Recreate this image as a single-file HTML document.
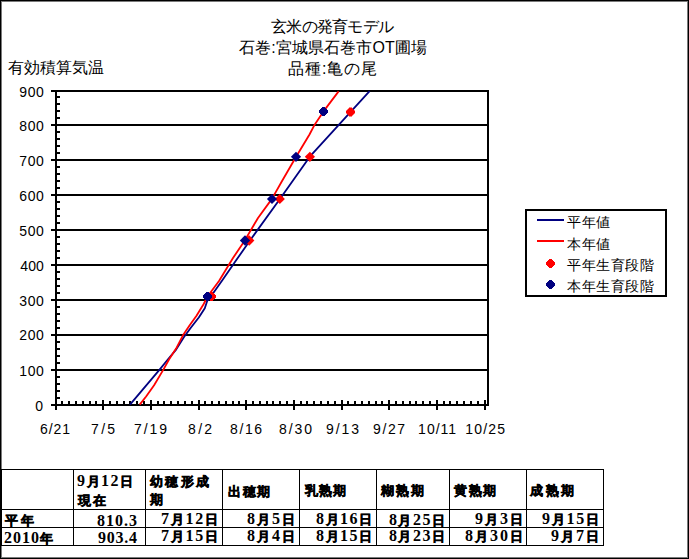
<!DOCTYPE html>
<html><head><meta charset="utf-8"><style>
html,body{margin:0;padding:0;background:#fff;}
body{width:689px;height:559px;position:relative;overflow:hidden;font-family:"Liberation Sans",sans-serif;}
svg{position:absolute;left:0;top:0;}
.t{font-family:"Liberation Sans",sans-serif;font-size:16px;fill:#000;}
.lg{font-family:"Liberation Sans",sans-serif;font-size:14px;fill:#000;}
.ax{font-family:"Liberation Sans",sans-serif;font-size:14px;fill:#000;}
.tb{font-family:"Liberation Serif",serif;font-weight:bold;fill:#000;}
.tb .dg{font-size:16px;}
.tb .cj{font-size:13px;stroke:#000;stroke-width:0.5px;}
</style></head><body>
<svg width="689" height="559" viewBox="0 0 689 559">
<g id="frame" shape-rendering="crispEdges">
<rect x="1" y="1" width="687" height="1" fill="#7a7a7a"/>
<rect x="1" y="557" width="687" height="1" fill="#7a7a7a"/>
<rect x="1" y="1" width="1" height="557" fill="#7a7a7a"/>
<rect x="687" y="1" width="1" height="557" fill="#7a7a7a"/>
<rect x="0" y="0" width="689" height="1"/>
<rect x="0" y="558" width="689" height="1"/>
<rect x="0" y="0" width="1" height="559"/>
<rect x="688" y="0" width="1" height="559"/>
<rect x="51" y="90" width="437" height="2"/><rect x="51" y="124" width="437" height="2"/><rect x="51" y="159" width="437" height="2"/><rect x="51" y="194" width="437" height="2"/><rect x="51" y="229" width="437" height="2"/><rect x="51" y="264" width="437" height="2"/><rect x="51" y="299" width="437" height="2"/><rect x="51" y="334" width="437" height="2"/><rect x="51" y="369" width="437" height="2"/><rect x="51" y="404" width="437" height="2"/><rect x="55" y="90" width="2" height="320"/><rect x="487" y="90" width="2" height="316"/><rect x="57" y="96" width="3" height="2"/><rect x="57" y="103" width="3" height="2"/><rect x="57" y="110" width="3" height="2"/><rect x="57" y="117" width="3" height="2"/><rect x="57" y="131" width="3" height="2"/><rect x="57" y="138" width="3" height="2"/><rect x="57" y="145" width="3" height="2"/><rect x="57" y="152" width="3" height="2"/><rect x="57" y="166" width="3" height="2"/><rect x="57" y="173" width="3" height="2"/><rect x="57" y="180" width="3" height="2"/><rect x="57" y="187" width="3" height="2"/><rect x="57" y="201" width="3" height="2"/><rect x="57" y="208" width="3" height="2"/><rect x="57" y="215" width="3" height="2"/><rect x="57" y="222" width="3" height="2"/><rect x="57" y="236" width="3" height="2"/><rect x="57" y="243" width="3" height="2"/><rect x="57" y="250" width="3" height="2"/><rect x="57" y="257" width="3" height="2"/><rect x="57" y="271" width="3" height="2"/><rect x="57" y="278" width="3" height="2"/><rect x="57" y="285" width="3" height="2"/><rect x="57" y="292" width="3" height="2"/><rect x="57" y="306" width="3" height="2"/><rect x="57" y="313" width="3" height="2"/><rect x="57" y="320" width="3" height="2"/><rect x="57" y="327" width="3" height="2"/><rect x="57" y="341" width="3" height="2"/><rect x="57" y="348" width="3" height="2"/><rect x="57" y="355" width="3" height="2"/><rect x="57" y="362" width="3" height="2"/><rect x="57" y="376" width="3" height="2"/><rect x="57" y="383" width="3" height="2"/><rect x="57" y="390" width="3" height="2"/><rect x="57" y="397" width="3" height="2"/><rect x="61" y="401" width="2" height="3"/><rect x="68" y="401" width="2" height="3"/><rect x="75" y="401" width="2" height="3"/><rect x="82" y="401" width="2" height="3"/><rect x="89" y="401" width="2" height="3"/><rect x="95" y="401" width="2" height="3"/><rect x="102" y="400" width="2" height="10"/><rect x="109" y="401" width="2" height="3"/><rect x="116" y="401" width="2" height="3"/><rect x="123" y="401" width="2" height="3"/><rect x="129" y="401" width="2" height="3"/><rect x="136" y="401" width="2" height="3"/><rect x="143" y="401" width="2" height="3"/><rect x="150" y="400" width="2" height="10"/><rect x="157" y="401" width="2" height="3"/><rect x="163" y="401" width="2" height="3"/><rect x="170" y="401" width="2" height="3"/><rect x="177" y="401" width="2" height="3"/><rect x="184" y="401" width="2" height="3"/><rect x="191" y="401" width="2" height="3"/><rect x="198" y="400" width="2" height="10"/><rect x="204" y="401" width="2" height="3"/><rect x="211" y="401" width="2" height="3"/><rect x="218" y="401" width="2" height="3"/><rect x="225" y="401" width="2" height="3"/><rect x="232" y="401" width="2" height="3"/><rect x="238" y="401" width="2" height="3"/><rect x="245" y="400" width="2" height="10"/><rect x="252" y="401" width="2" height="3"/><rect x="259" y="401" width="2" height="3"/><rect x="266" y="401" width="2" height="3"/><rect x="272" y="401" width="2" height="3"/><rect x="279" y="401" width="2" height="3"/><rect x="286" y="401" width="2" height="3"/><rect x="293" y="400" width="2" height="10"/><rect x="300" y="401" width="2" height="3"/><rect x="306" y="401" width="2" height="3"/><rect x="313" y="401" width="2" height="3"/><rect x="320" y="401" width="2" height="3"/><rect x="327" y="401" width="2" height="3"/><rect x="334" y="401" width="2" height="3"/><rect x="341" y="400" width="2" height="10"/><rect x="347" y="401" width="2" height="3"/><rect x="354" y="401" width="2" height="3"/><rect x="361" y="401" width="2" height="3"/><rect x="368" y="401" width="2" height="3"/><rect x="375" y="401" width="2" height="3"/><rect x="381" y="401" width="2" height="3"/><rect x="388" y="400" width="2" height="10"/><rect x="395" y="401" width="2" height="3"/><rect x="402" y="401" width="2" height="3"/><rect x="409" y="401" width="2" height="3"/><rect x="415" y="401" width="2" height="3"/><rect x="422" y="401" width="2" height="3"/><rect x="429" y="401" width="2" height="3"/><rect x="436" y="400" width="2" height="10"/><rect x="443" y="401" width="2" height="3"/><rect x="449" y="401" width="2" height="3"/><rect x="456" y="401" width="2" height="3"/><rect x="463" y="401" width="2" height="3"/><rect x="470" y="401" width="2" height="3"/><rect x="477" y="401" width="2" height="3"/><rect x="484" y="400" width="2" height="10"/><rect x="525" y="209" width="142" height="2"/><rect x="525" y="295" width="142" height="2"/><rect x="525" y="209" width="2" height="88"/><rect x="665" y="209" width="2" height="88"/><rect x="537" y="219" width="27" height="2" fill="#000080"/><rect x="537" y="240" width="27" height="2" fill="#ff0000"/><rect x="73" y="469" width="1" height="77"/><rect x="145" y="469" width="1" height="77"/><rect x="222" y="469" width="1" height="77"/><rect x="299" y="469" width="1" height="77"/><rect x="376" y="469" width="1" height="77"/><rect x="449" y="469" width="1" height="77"/><rect x="526" y="469" width="1" height="77"/><rect x="603" y="469" width="1" height="77"/><rect x="0" y="469" width="604" height="1"/><rect x="0" y="509" width="604" height="1"/><rect x="0" y="527" width="604" height="1"/><rect x="0" y="545" width="604" height="1"/><rect x="0" y="469" width="2" height="77"/>
</g>
<g id="shapes"><polyline points="130.0,404.6 159.6,369.6 167.6,359.8 176.1,349.6 184.0,337.0 191.0,327.5 198.8,317.5 204.8,308.2 207.2,301.0 211.0,296.3 222.5,280.0 236.5,259.8 249.6,241.0 279.9,199.0 309.8,156.7 369.6,91.2" fill="none" stroke="#000080" stroke-width="1.8" stroke-linejoin="round"/><polyline points="139.7,404.6 146.1,396.5 154.1,385.2 163.4,369.6 169.0,359.5 176.1,348.6 182.8,335.6 189.5,325.6 196.5,315.8 203.7,304.0 207.5,296.5 219.0,281.0 226.0,269.5 233.0,258.0 244.8,240.4 258.0,218.0 271.9,198.9 282.2,180.8 296.1,156.7 309.5,134.5 314.8,124.4 323.5,111.4 338.6,91.4" fill="none" stroke="#ff0000" stroke-width="1.8" stroke-linejoin="round"/><polygon points="210.00,292.00 213.00,292.00 213.00,293.00 214.00,293.00 214.00,294.00 215.00,294.00 215.00,295.00 216.00,295.00 216.00,298.00 215.00,298.00 215.00,299.00 214.00,299.00 214.00,300.00 213.00,300.00 213.00,301.00 210.00,301.00 210.00,300.00 209.00,300.00 209.00,299.00 208.00,299.00 208.00,298.00 207.00,298.00 207.00,295.00 208.00,295.00 208.00,294.00 209.00,294.00 209.00,293.00 210.00,293.00" fill="#ff0000"/><polygon points="206.00,292.00 209.00,292.00 209.00,293.00 210.00,293.00 210.00,294.00 211.00,294.00 211.00,295.00 212.00,295.00 212.00,298.00 211.00,298.00 211.00,299.00 210.00,299.00 210.00,300.00 209.00,300.00 209.00,301.00 206.00,301.00 206.00,300.00 205.00,300.00 205.00,299.00 204.00,299.00 204.00,298.00 203.00,298.00 203.00,295.00 204.00,295.00 204.00,294.00 205.00,294.00 205.00,293.00 206.00,293.00" fill="#000080"/><polygon points="244.00,240.50 249.20,235.30 254.40,240.50 249.20,245.70" fill="#ff0000"/><polygon points="239.80,240.50 245.00,235.30 250.20,240.50 245.00,245.70" fill="#000080"/><polygon points="274.70,199.00 279.80,193.90 284.90,199.00 279.80,204.10" fill="#ff0000"/><polygon points="266.90,199.00 272.00,193.90 277.10,199.00 272.00,204.10" fill="#000080"/><polygon points="304.80,156.80 309.90,151.70 315.00,156.80 309.90,161.90" fill="#ff0000"/><polygon points="290.90,156.80 296.00,151.70 301.10,156.80 296.00,161.90" fill="#000080"/><polygon points="349.00,107.50 352.00,107.50 352.00,108.50 353.00,108.50 353.00,109.50 354.00,109.50 354.00,110.50 355.00,110.50 355.00,113.50 354.00,113.50 354.00,114.50 353.00,114.50 353.00,115.50 352.00,115.50 352.00,116.50 349.00,116.50 349.00,115.50 348.00,115.50 348.00,114.50 347.00,114.50 347.00,113.50 346.00,113.50 346.00,110.50 347.00,110.50 347.00,109.50 348.00,109.50 348.00,108.50 349.00,108.50" fill="#ff0000"/><polygon points="322.00,107.00 325.00,107.00 325.00,108.00 326.00,108.00 326.00,109.00 327.00,109.00 327.00,110.00 328.00,110.00 328.00,113.00 327.00,113.00 327.00,114.00 326.00,114.00 326.00,115.00 325.00,115.00 325.00,116.00 322.00,116.00 322.00,115.00 321.00,115.00 321.00,114.00 320.00,114.00 320.00,113.00 319.00,113.00 319.00,110.00 320.00,110.00 320.00,109.00 321.00,109.00 321.00,108.00 322.00,108.00" fill="#000080"/><polygon points="549.00,259.00 552.00,259.00 552.00,260.00 553.00,260.00 553.00,261.00 554.00,261.00 554.00,262.00 555.00,262.00 555.00,265.00 554.00,265.00 554.00,266.00 553.00,266.00 553.00,267.00 552.00,267.00 552.00,268.00 549.00,268.00 549.00,267.00 548.00,267.00 548.00,266.00 547.00,266.00 547.00,265.00 546.00,265.00 546.00,262.00 547.00,262.00 547.00,261.00 548.00,261.00 548.00,260.00 549.00,260.00" fill="#ff0000"/><polygon points="549.00,280.00 552.00,280.00 552.00,281.00 553.00,281.00 553.00,282.00 554.00,282.00 554.00,283.00 555.00,283.00 555.00,286.00 554.00,286.00 554.00,287.00 553.00,287.00 553.00,288.00 552.00,288.00 552.00,289.00 549.00,289.00 549.00,288.00 548.00,288.00 548.00,287.00 547.00,287.00 547.00,286.00 546.00,286.00 546.00,283.00 547.00,283.00 547.00,282.00 548.00,282.00 548.00,281.00 549.00,281.00" fill="#000080"/></g>
<g id="texts"><text id="t1" class="t" x="271.02" y="31.86" textLength="123.07" lengthAdjust="spacing">玄米の発育モデル</text><text id="t2" class="t" x="239.01" y="53.20" textLength="187.97" lengthAdjust="spacing">石巻:宮城県石巻市OT圃場</text><text id="t3" class="t" x="288.14" y="73.92" textLength="88.89" lengthAdjust="spacing">品種:亀の尾</text><text id="t4" class="t" x="7.98" y="72.82" textLength="95.99" lengthAdjust="spacing">有効積算気温</text><text id="lg1" class="lg" x="566.98" y="227.02" textLength="43.12" lengthAdjust="spacing">平年値</text><text id="lg2" class="lg" x="566.98" y="248.86" textLength="43.12" lengthAdjust="spacing">本年値</text><text id="lg3" class="lg" x="566.98" y="270.40" textLength="87.14" lengthAdjust="spacing">平年生育段階</text><text id="lg4" class="lg" x="566.98" y="290.69" textLength="87.14" lengthAdjust="spacing">本年生育段階</text><text id="x1" class="ax" x="40.10" y="434.45" textLength="30.00" lengthAdjust="spacing">6/21</text><text id="x2" class="ax" x="91.07" y="434.45" textLength="24.03" lengthAdjust="spacing">7/5</text><text id="x3" class="ax" x="134.10" y="434.45" textLength="32.99" lengthAdjust="spacing">7/19</text><text id="x4" class="ax" x="188.06" y="434.45" textLength="24.03" lengthAdjust="spacing">8/2</text><text id="x5" class="ax" x="230.03" y="434.45" textLength="32.07" lengthAdjust="spacing">8/16</text><text id="x6" class="ax" x="279.05" y="434.45" textLength="32.99" lengthAdjust="spacing">8/30</text><text id="x7" class="ax" x="326.07" y="434.45" textLength="32.96" lengthAdjust="spacing">9/13</text><text id="x8" class="ax" x="373.09" y="434.45" textLength="31.98" lengthAdjust="spacing">9/27</text><text id="x9" class="ax" x="418.12" y="434.45" textLength="37.93" lengthAdjust="spacing">10/11</text><text id="x10" class="ax" x="465.14" y="434.45" textLength="39.91" lengthAdjust="spacing">10/25</text><text id="h1" class="tb" x="77.03" y="486.21" textLength="55.88" lengthAdjust="spacing"><tspan class="dg">9</tspan><tspan class="cj">月</tspan><tspan class="dg">12</tspan><tspan class="cj">日</tspan></text><text id="h1b" class="tb" x="77.93" y="504.61" textLength="28.22" lengthAdjust="spacing"><tspan class="cj">現在</tspan></text><text id="h2" class="tb" x="149.98" y="486.04" textLength="59.14" lengthAdjust="spacing"><tspan class="cj">幼穂形成</tspan></text><text id="h2b" class="tb" x="149.98" y="503.57" textLength="38.34" lengthAdjust="spacing"><tspan class="cj">期</tspan></text><text id="h3" class="tb" x="227.98" y="495.59" textLength="42.12" lengthAdjust="spacing"><tspan class="cj">出穂期</tspan></text><text id="h4" class="tb" x="304.88" y="494.99" textLength="41.28" lengthAdjust="spacing"><tspan class="cj">乳熟期</tspan></text><text id="h5" class="tb" x="380.88" y="494.99" textLength="43.21" lengthAdjust="spacing"><tspan class="cj">糊熟期</tspan></text><text id="h6" class="tb" x="453.98" y="494.99" textLength="42.18" lengthAdjust="spacing"><tspan class="cj">黄熟期</tspan></text><text id="h7" class="tb" x="529.98" y="494.99" textLength="44.11" lengthAdjust="spacing"><tspan class="cj">成熟期</tspan></text><text id="r1" class="tb" x="4.98" y="524.61" textLength="29.16" lengthAdjust="spacing"><tspan class="cj">平年</tspan></text><text id="r2" class="tb" x="4.08" y="542.67" textLength="49.05" lengthAdjust="spacing"><tspan class="dg">2010</tspan><tspan class="cj">年</tspan></text><text id="a1" class="tb" x="97.10" y="525.92" textLength="40.01" lengthAdjust="spacing"><tspan class="dg">810.3</tspan></text><text id="a2" class="tb" x="98.00" y="543.16" textLength="39.12" lengthAdjust="spacing"><tspan class="dg">903.4</tspan></text><text id="b1" class="tb" x="161.07" y="524.43" textLength="56.86" lengthAdjust="spacing"><tspan class="dg">7</tspan><tspan class="cj">月</tspan><tspan class="dg">12</tspan><tspan class="cj">日</tspan></text><text id="b2" class="tb" x="161.07" y="541.42" textLength="56.86" lengthAdjust="spacing"><tspan class="dg">7</tspan><tspan class="cj">月</tspan><tspan class="dg">15</tspan><tspan class="cj">日</tspan></text><text id="c1" class="tb" x="247.09" y="524.10" textLength="47.83" lengthAdjust="spacing"><tspan class="dg">8</tspan><tspan class="cj">月</tspan><tspan class="dg">5</tspan><tspan class="cj">日</tspan></text><text id="c2" class="tb" x="247.09" y="541.45" textLength="47.83" lengthAdjust="spacing"><tspan class="dg">8</tspan><tspan class="cj">月</tspan><tspan class="dg">4</tspan><tspan class="cj">日</tspan></text><text id="d1" class="tb" x="316.04" y="524.10" textLength="55.84" lengthAdjust="spacing"><tspan class="dg">8</tspan><tspan class="cj">月</tspan><tspan class="dg">16</tspan><tspan class="cj">日</tspan></text><text id="d2" class="tb" x="316.04" y="541.45" textLength="55.84" lengthAdjust="spacing"><tspan class="dg">8</tspan><tspan class="cj">月</tspan><tspan class="dg">15</tspan><tspan class="cj">日</tspan></text><text id="e1" class="tb" x="389.02" y="524.52" textLength="55.90" lengthAdjust="spacing"><tspan class="dg">8</tspan><tspan class="cj">月</tspan><tspan class="dg">25</tspan><tspan class="cj">日</tspan></text><text id="e2" class="tb" x="389.02" y="541.45" textLength="55.90" lengthAdjust="spacing"><tspan class="dg">8</tspan><tspan class="cj">月</tspan><tspan class="dg">23</tspan><tspan class="cj">日</tspan></text><text id="f1" class="tb" x="475.02" y="524.10" textLength="47.83" lengthAdjust="spacing"><tspan class="dg">9</tspan><tspan class="cj">月</tspan><tspan class="dg">3</tspan><tspan class="cj">日</tspan></text><text id="f2" class="tb" x="465.09" y="541.45" textLength="57.76" lengthAdjust="spacing"><tspan class="dg">8</tspan><tspan class="cj">月</tspan><tspan class="dg">30</tspan><tspan class="cj">日</tspan></text><text id="g1" class="tb" x="542.05" y="524.10" textLength="56.86" lengthAdjust="spacing"><tspan class="dg">9</tspan><tspan class="cj">月</tspan><tspan class="dg">15</tspan><tspan class="cj">日</tspan></text><text id="g2" class="tb" x="551.08" y="541.45" textLength="47.83" lengthAdjust="spacing"><tspan class="dg">9</tspan><tspan class="cj">月</tspan><tspan class="dg">7</tspan><tspan class="cj">日</tspan></text><text id="y0" class="ax" x="19.30" y="96.70" textLength="24.55" lengthAdjust="spacing">900</text><text id="y1" class="ax" x="19.30" y="130.99" textLength="24.55" lengthAdjust="spacing">800</text><text id="y2" class="ax" x="19.30" y="166.18" textLength="24.55" lengthAdjust="spacing">700</text><text id="y3" class="ax" x="19.30" y="201.37" textLength="24.55" lengthAdjust="spacing">600</text><text id="y4" class="ax" x="19.30" y="235.66" textLength="24.55" lengthAdjust="spacing">500</text><text id="y5" class="ax" x="20.20" y="270.85" textLength="23.65" lengthAdjust="spacing">400</text><text id="y6" class="ax" x="19.30" y="306.04" textLength="24.55" lengthAdjust="spacing">300</text><text id="y7" class="ax" x="19.30" y="340.33" textLength="24.55" lengthAdjust="spacing">200</text><text id="y8" class="ax" x="19.35" y="375.52" textLength="24.50" lengthAdjust="spacing">100</text><text id="y9" class="ax" x="35.25" y="410.71" textLength="20.30" lengthAdjust="spacing">0</text></g>
</svg>
</body></html>
